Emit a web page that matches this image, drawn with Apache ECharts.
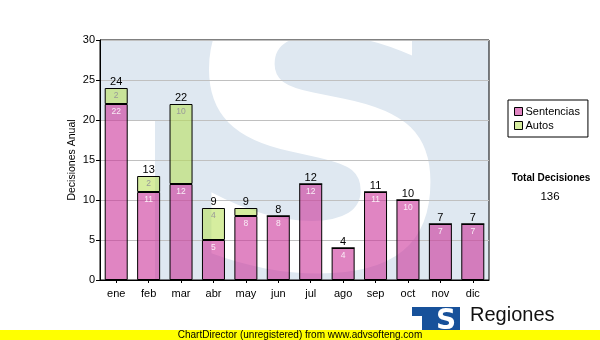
<!DOCTYPE html>
<html>
<head>
<meta charset="utf-8">
<script src="https://cdn.jsdelivr.net/npm/echarts@6/dist/echarts.min.js"></script>
<style>
  html, body { margin: 0; padding: 0; background: #fff; }
  #chart { width: 600px; height: 340px; }
</style>
</head>
<body>
<div id="chart"></div>
<script>
// Decisiones anuales por mes
const meses = ['ene', 'feb', 'mar', 'abr', 'may', 'jun', 'jul', 'ago', 'sep', 'oct', 'nov', 'dic'];
const sentencias = [22, 11, 12, 5, 8, 8, 12, 4, 11, 10, 7, 7];
const autos = [2, 2, 10, 4, 1, 0, 0, 0, 0, 0, 0, 0];
const yTicks = { min: 0, max: 30, step: 5 };

const totales = meses.map((_, i) => sentencias[i] + autos[i]);
const totalDecisiones = totales.reduce((a, b) => a + b, 0);

const FONT = 'Liberation Sans, Arial, sans-serif';
const grid = { left: 100, top: 40, right: 111, bottom: 60 };
const plotW = 600 - grid.left - grid.right;
const plotH = 340 - grid.top - grid.bottom;

const chart = echarts.init(document.getElementById('chart'), null, { renderer: 'canvas' });

// segments under ~2 units are too short to hold a label
const minLabelled = 2;

chart.setOption({
  animation: false,
  backgroundColor: '#ffffff',
  textStyle: { fontFamily: FONT },
  grid: {
    left: grid.left, top: grid.top, right: grid.right, bottom: grid.bottom,
    show: true, borderColor: '#000', borderWidth: 1, backgroundColor: 'transparent'
  },
  legend: {
    data: ['Sentencias', 'Autos'],
    orient: 'vertical',
    left: 508, top: 100,
    padding: [6, 8, 6, 6],
    itemWidth: 8, itemHeight: 8, itemGap: 3,
    icon: 'rect',
    borderColor: '#000', borderWidth: 1,
    textStyle: { fontSize: 11, color: '#000', fontFamily: FONT, padding: [0, 0, 0, -2] },
    itemStyle: { borderColor: '#000', borderWidth: 1 }
  },
  xAxis: {
    type: 'category',
    data: meses,
    axisLine: { lineStyle: { color: '#000', width: 1 } },
    axisTick: { show: true, alignWithLabel: true, length: 3, lineStyle: { color: '#000' } },
    axisLabel: { color: '#000', fontSize: 11, margin: 8, fontFamily: FONT }
  },
  yAxis: {
    type: 'value',
    min: yTicks.min, max: yTicks.max, interval: yTicks.step,
    name: 'Decisiones Anual',
    nameLocation: 'middle',
    nameGap: 22,
    nameMoveOverlap: false,
    nameTextStyle: { color: '#000', fontSize: 10.5, fontFamily: FONT },
    axisLine: { show: true, lineStyle: { color: '#000', width: 1 } },
    axisTick: { show: true, length: 4, lineStyle: { color: '#000' } },
    axisLabel: { color: '#000', fontSize: 11, margin: 5, fontFamily: FONT },
    splitLine: { show: true, lineStyle: { color: '#c0c0c0', width: 1 } }
  },
  graphic: [
    // faded logo behind the plot
    { type: 'rect', z: -1, silent: true,
      shape: { x: grid.left, y: grid.top, width: plotW, height: plotH },
      style: { fill: '#dfe8f1' } },
    { type: 'rect', z: -1, silent: true,
      shape: { x: grid.left, y: 120, width: 55, height: grid.top + plotH - 120 },
      style: { fill: '#ffffff' } },
    { type: 'text', z: -1, silent: true,
      style: { text: 'S', x: 320, y: 168, fill: '#ffffff',
        font: 'bold 385px "DejaVu Sans"', textAlign: 'center', textVerticalAlign: 'middle' } },
    // summary panel
    { type: 'text', silent: true,
      style: { text: 'Total Decisiones', x: 551, y: 178, fill: '#000',
        font: 'bold 10px ' + FONT, textAlign: 'center', textVerticalAlign: 'middle' } },
    { type: 'text', silent: true,
      style: { text: String(totalDecisiones), x: 550, y: 197, fill: '#000',
        font: '11.5px ' + FONT, textAlign: 'center', textVerticalAlign: 'middle' } },
    // footer logo
    { type: 'rect', silent: true,
      shape: { x: 412, y: 307, width: 48, height: 26 }, style: { fill: '#17519a' } },
    { type: 'rect', silent: true,
      shape: { x: 412, y: 316, width: 10, height: 17 }, style: { fill: '#ffffff' } },
    { type: 'text', silent: true,
      style: { text: 'S', x: 446, y: 322, fill: '#ffffff',
        font: 'bold 28px "DejaVu Sans"', textAlign: 'center', textVerticalAlign: 'middle' } },
    { type: 'text', silent: true,
      style: { text: 'Regiones', x: 470, y: 315, fill: '#111',
        font: '20px ' + FONT, textAlign: 'left', textVerticalAlign: 'middle' } },
    // unregistered banner
    { type: 'rect', silent: true,
      shape: { x: 0, y: 330, width: 600, height: 10 }, style: { fill: '#ffff00' } },
    { type: 'text', silent: true,
      style: { text: 'ChartDirector (unregistered) from www.advsofteng.com', x: 300, y: 335, fill: '#000',
        font: '10px ' + FONT, textAlign: 'center', textVerticalAlign: 'middle' } }
  ],
  series: [
    {
      name: 'Sentencias',
      type: 'bar',
      stack: 'dec',
      barWidth: 23,
      data: sentencias,
      itemStyle: { color: 'rgba(204,51,153,0.6)', borderColor: '#000', borderWidth: 1 },
      label: {
        show: true, position: 'insideTop', distance: 3,
        color: 'rgba(255,255,255,0.85)', fontSize: 8.5, fontFamily: FONT,
        formatter: p => (p.value >= minLabelled ? String(p.value) : '')
      }
    },
    {
      name: 'Autos',
      type: 'bar',
      stack: 'dec',
      barWidth: 23,
      data: autos,
      itemStyle: { color: 'rgba(180,222,80,0.55)', borderColor: '#000', borderWidth: 1 },
      label: {
        show: true, position: 'insideTop', distance: 3,
        color: '#999', fontSize: 8.5, fontFamily: FONT,
        formatter: p => (p.value >= minLabelled ? String(p.value) : '')
      }
    },
    {
      name: 'Total',
      type: 'bar',
      stack: 'dec',
      barWidth: 23,
      data: meses.map(() => 0),
      itemStyle: { color: 'rgba(0,0,0,0)', borderWidth: 0 },
      label: {
        show: true, position: 'top', distance: 1,
        color: '#000', fontSize: 11, fontFamily: FONT,
        formatter: p => String(totales[p.dataIndex])
      }
    }
  ]
});
</script>
</body>
</html>
